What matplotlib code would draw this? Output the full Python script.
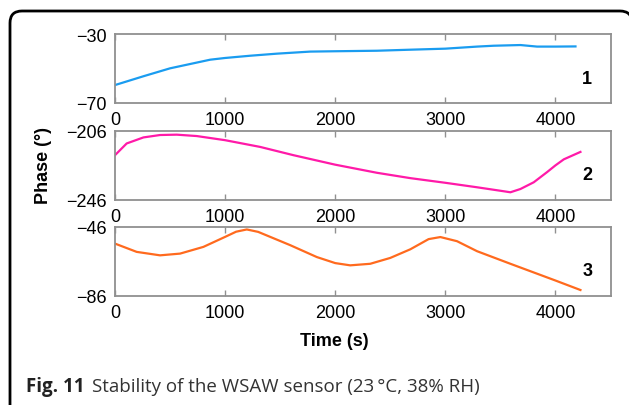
import matplotlib.pyplot as plt
from matplotlib.path import Path
from matplotlib.patches import PathPatch
from matplotlib.transforms import IdentityTransform

# sensor phase traces (time in s, phase in degrees)
t1 = [0, 258, 500, 682, 864, 1000, 1227, 1470, 1773, 2000, 2379, 2682, 3000, 3288, 3439, 3682, 3833, 4000, 4182]
phase1 = [-59.6, -54.5, -49.9, -47.4, -44.9, -43.9, -42.6, -41.4, -40.2, -40.0, -39.7, -39.1, -38.5, -37.3,
          -36.8, -36.4, -37.3, -37.3, -37.2]

t2 = [0, 106, 258, 409, 561, 742, 1000, 1318, 1621, 2000, 2379, 2682, 3000, 3288, 3530, 3591, 3682, 3803,
      3924, 4000, 4076, 4227]
phase2 = [-220.2, -213.4, -209.9, -208.5, -208.3, -209.1, -211.5, -215.4, -220.2, -225.7, -230.4, -233.5,
          -236.2, -238.8, -241.1, -241.7, -239.8, -235.9, -230.0, -226.1, -222.6, -218.3]

t3 = [0, 197, 409, 591, 803, 1000, 1100, 1197, 1300, 1591, 1833, 2000, 2136, 2318, 2500, 2682, 2848, 2955,
      3106, 3288, 3591, 4000, 4227]
phase3 = [-55.8, -60.6, -62.6, -61.6, -57.7, -51.9, -48.9, -47.6, -49.0, -56.7, -63.6, -67.1, -68.4, -67.5,
          -64.1, -59.1, -53.2, -52.0, -54.4, -60.2, -67.5, -77.2, -82.7]

ylims = [(-70, -30), (-246, -206), (-86, -46)]
xticks = [0, 1000, 2000, 3000, 4000]
colors = ["#1a9cf0", "#ff1aa8", "#ff6a1e"]
tags = ["1", "2", "3"]

plt.rcParams["font.family"] = "Liberation Sans"

W, H = 629, 406
fig = plt.figure(figsize=(W / 100, H / 100), dpi=100)

# rounded frame around the figure panel, drawn in pixel units
r = 12
x0, x1, ytop = 10, 632, H - 12
verts = [(x0, -10), (x0, ytop - r), (x0, ytop), (x0 + r, ytop),
         (x1 - r, ytop), (x1, ytop), (x1, ytop - r), (x1, -10)]
codes = [Path.MOVETO, Path.LINETO, Path.CURVE3, Path.CURVE3,
         Path.LINETO, Path.CURVE3, Path.CURVE3, Path.LINETO]
frame = PathPatch(Path(verts, codes), transform=IdentityTransform(),
                  fill=False, lw=2, ec="black", clip_on=False)
fig.patches.append(frame)

tops = [35, 131.7, 227.7]
ax_h = 69
left, right = 115, 610.5
series = [(t1, phase1), (t2, phase2), (t3, phase3)]
for i, (t, p) in enumerate(series):
    ax = fig.add_axes([left / W, 1 - (tops[i] + ax_h) / H, (right - left) / W, ax_h / H])
    ax.plot(t, p, color=colors[i], lw=1.6)
    ax.set_xlim(0, 4500)
    ax.set_ylim(*ylims[i])
    ax.set_xticks(xticks)
    ax.set_xticklabels([str(v) for v in xticks])
    ax.set_yticks(list(ylims[i]))
    ax.set_yticklabels([f"\u2212{abs(v)}" for v in ylims[i]])
    ax.tick_params(axis="x", direction="in", top=True, length=4, width=1,
                   color="#909090", labelsize=13, pad=6)
    ax.tick_params(axis="y", length=0, labelsize=13, pad=6)
    for s in ax.spines.values():
        s.set_color("#909090")
        s.set_linewidth(1.3)
    ax.text(0.953, 0.36, tags[i], transform=ax.transAxes, fontsize=13,
            fontweight="bold", ha="center", va="center")

fig.text(43 / W, 1 - 166 / H, "Phase (\u00b0)", rotation=90, fontsize=13,
         fontweight="bold", ha="center", va="center")
fig.text(334 / W, 1 - 342 / H, "Time (s)", fontsize=13, fontweight="bold",
         ha="center", va="center")

# caption: bold figure number followed by regular text
cap = fig.text(26 / W, 1 - 387 / H, "Fig. 11", fontsize=13.5, fontweight="bold",
               family="Open Sans", color="#222222", va="center", ha="left")
fig.canvas.draw()
bb = cap.get_window_extent()
fig.text((bb.x1 + 7) / W, 1 - 387 / H, "Stability of the WSAW sensor (23\u2009\u00b0C, 38% RH)",
         fontsize=13.5, family="Open Sans", color="#333333", va="center", ha="left")

fig.savefig("out.png", dpi=100)
